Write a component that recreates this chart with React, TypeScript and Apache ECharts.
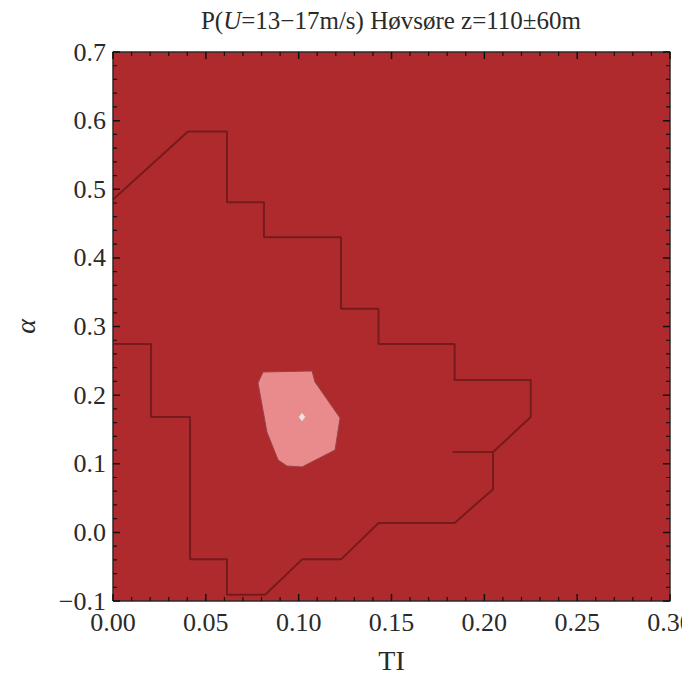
import React, { useEffect, useRef } from "react";
import * as echarts from "echarts";

// ---- data ----
const xTicks = [0, 0.05, 0.1, 0.15, 0.2, 0.25, 0.3];
const yTicks = [-0.1, 0, 0.1, 0.2, 0.3, 0.4, 0.5, 0.6, 0.7];

// upper contour line (TI, alpha)
const upperTI = [0, 0.0404, 0.0614, 0.0614, 0.0813, 0.0813, 0.1228, 0.1228, 0.143, 0.143, 0.184, 0.184, 0.225, 0.225, 0.2047];
const upperAlpha = [0.485, 0.584, 0.584, 0.481, 0.481, 0.43, 0.43, 0.326, 0.326, 0.2745, 0.2745, 0.222, 0.222, 0.168, 0.117];

// lower contour line
const lowerTI = [0, 0.0205, 0.0205, 0.0415, 0.0415, 0.0614, 0.0614, 0.082, 0.102, 0.123, 0.143, 0.184, 0.2047, 0.2047, 0.183];
const lowerAlpha = [0.2745, 0.2745, 0.168, 0.168, -0.039, -0.039, -0.091, -0.091, -0.039, -0.039, 0.0137, 0.0137, 0.063, 0.117, 0.117];

// inner (higher probability) region
const innerTI = [0.0808, 0.1072, 0.1088, 0.1223, 0.1196, 0.1018, 0.0937, 0.0889, 0.0829, 0.0781];
const innerAlpha = [0.2337, 0.2352, 0.2191, 0.1667, 0.12, 0.0953, 0.0967, 0.1055, 0.1463, 0.2177];

// peak
const peakTI = [0.1018];
const peakAlpha = [0.168];

const MINOR_SPLIT = 5;

// layout
const GRID = { left: 113, top: 52, width: 557, height: 549 };
const MAJOR_PX = 7;
const MINOR_PX = 4;

const zip = (a: number[], b: number[]) => a.map((v, i) => [v, b[i]]);
const minors = (t: number[]) => {
  const out: number[] = [];
  for (let i = 0; i < t.length - 1; i++) {
    for (let k = 1; k < MINOR_SPLIT; k++) out.push(t[i] + ((t[i + 1] - t[i]) * k) / MINOR_SPLIT);
  }
  return out;
};

const xMin = xTicks[0];
const xMax = xTicks[xTicks.length - 1];
const yMin = yTicks[0];
const yMax = yTicks[yTicks.length - 1];
const xPerPx = (xMax - xMin) / GRID.width;
const yPerPx = (yMax - yMin) / GRID.height;

// inward tick segments on all four sides, separated by gaps
const tickData = (xs: number[], ys: number[], px: number) => {
  const out: any[] = [];
  const gap = [NaN, NaN];
  const dx = px * xPerPx;
  const dy = px * yPerPx;
  xs.forEach((v) => {
    out.push([v, yMin], [v, yMin + dy], gap, [v, yMax], [v, yMax - dy], gap);
  });
  ys.forEach((v) => {
    out.push([xMin, v], [xMin + dx, v], gap, [xMax, v], [xMax - dx, v], gap);
  });
  return out;
};

const FONT = "'Liberation Serif', 'Times New Roman', serif";
const TEXT = "#2a2a2a";

export default function App() {
  const ref = useRef<HTMLDivElement>(null);
  useEffect(() => {
    document.body.style.margin = "0";
    const chart = echarts.init(ref.current!, null, { renderer: "svg" });
    const segStyle = (w: number, color: string) => ({
      type: "line",
      z: 5,
      clip: false,
      silent: true,
      showSymbol: false,
      connectNulls: false,
      lineStyle: { color, width: w },
    });
    chart.setOption({
      animation: false,
      title: {
        text: "{n|P(}{i|U}{n|=13\u221217m/s) H\u00f8vs\u00f8re z=110\u00b160m}",
        left: 386,
        top: 3,
        textAlign: "center",
        textStyle: {
          fontWeight: "normal",
          rich: {
            n: { fontFamily: FONT, fontSize: 25, fontWeight: "normal", color: TEXT },
            i: { fontFamily: FONT, fontSize: 25, fontWeight: "normal", color: TEXT, fontStyle: "italic" },
          },
        },
      },
      grid: {
        ...GRID,
        outerBoundsMode: "none",
        show: true,
        backgroundColor: "#AF2A2D",
        borderWidth: 0,
      },
      xAxis: {
        type: "value",
        min: xMin,
        max: xMax,
        interval: 0.05,
        position: "bottom",
        name: "TI",
        nameLocation: "middle",
        nameGap: 45,
        nameTextStyle: { fontFamily: FONT, fontSize: 28, color: TEXT },
        axisLine: { show: false, onZero: false },
        axisTick: { show: false },
        splitLine: { show: false },
        axisLabel: {
          fontFamily: FONT,
          fontSize: 26,
          color: TEXT,
          margin: 8,
          formatter: (v: number) => v.toFixed(2),
        },
      },
      yAxis: {
        type: "value",
        min: yMin,
        max: yMax,
        interval: 0.1,
        position: "left",
        name: "{i|\u03b1}",
        nameLocation: "middle",
        nameGap: 74,
        nameRotate: 90,
        nameTextStyle: {
          rich: { i: { fontFamily: FONT, fontSize: 28, color: TEXT, fontStyle: "italic" } },
        },
        axisLine: { show: false, onZero: false },
        axisTick: { show: false },
        splitLine: { show: false },
        axisLabel: {
          fontFamily: FONT,
          fontSize: 26,
          color: TEXT,
          margin: 7,
          formatter: (v: number) => {
            const s = Math.abs(v).toFixed(1);
            return v < -1e-9 ? "\u2212" + s : s;
          },
        },
      },
      series: [
        {
          type: "custom",
          data: [[innerTI[0], innerAlpha[0]]],
          silent: true,
          renderItem: (_params: any, api: any) => {
            const pts = zip(innerTI, innerAlpha).map((p) => api.coord(p));
            return {
              type: "polygon",
              shape: { points: pts },
              style: { fill: "#E98B8D", stroke: "#9A4244", lineWidth: 1 },
            };
          },
        },
        {
          type: "line",
          data: zip(upperTI, upperAlpha),
          showSymbol: false,
          lineStyle: { color: "#761A1C", width: 2 },
          silent: true,
        },
        {
          type: "line",
          data: zip(lowerTI, lowerAlpha),
          showSymbol: false,
          lineStyle: { color: "#761A1C", width: 2 },
          silent: true,
        },
        {
          type: "scatter",
          data: zip(peakTI, peakAlpha),
          symbol: "diamond",
          symbolSize: [7, 9],
          itemStyle: { color: "#F4F4F4", borderColor: "#B0A0A0", borderWidth: 0.5 },
          silent: true,
        },
        {
          ...segStyle(1.5, "#2b2b2b"),
          data: [
            [xMin, yMin],
            [xMax, yMin],
            [xMax, yMax],
            [xMin, yMax],
            [xMin, yMin],
          ],
        },
        {
          ...segStyle(1.5, "#111111"),
          data: tickData(xTicks, yTicks, MAJOR_PX),
        },
        {
          ...segStyle(1.2, "#111111"),
          data: tickData(minors(xTicks), minors(yTicks), MINOR_PX),
        },
      ],
    });
    return () => chart.dispose();
  }, []);
  return <div ref={ref} style={{ width: 682, height: 675 }} />;
}
